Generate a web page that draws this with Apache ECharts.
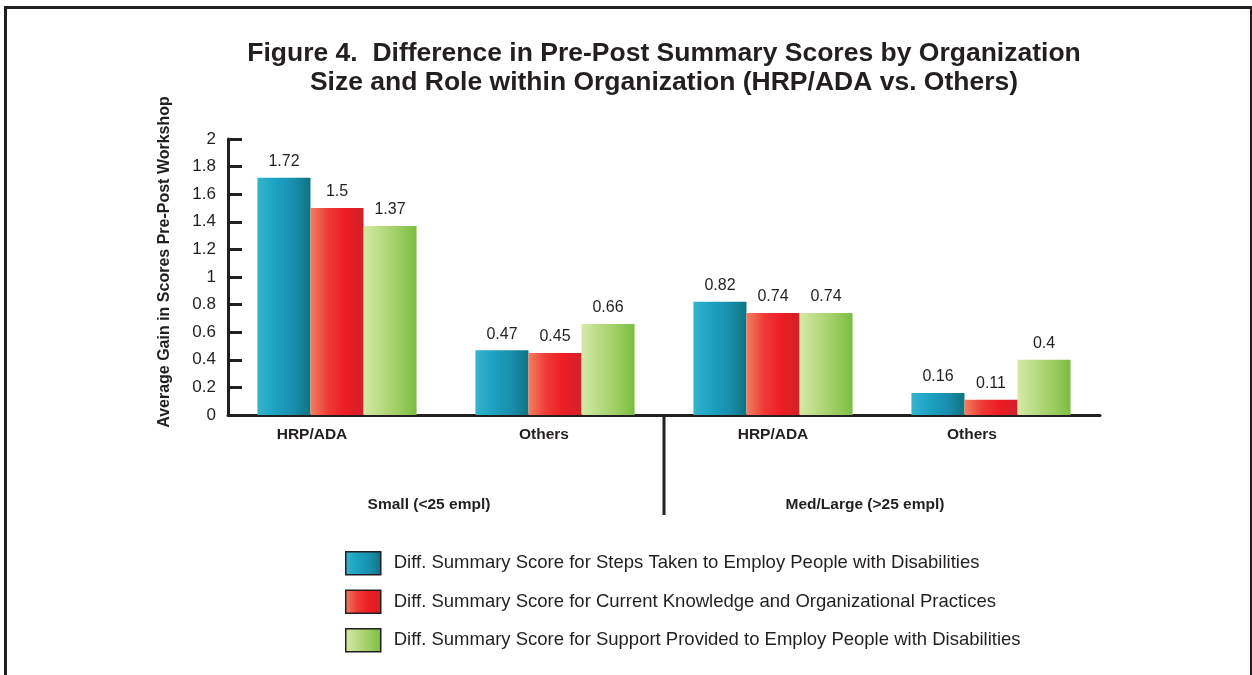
<!DOCTYPE html>
<html>
<head>
<meta charset="utf-8">
<script src="https://cdn.jsdelivr.net/npm/echarts@6/dist/echarts.min.js"></script>
<style>
  html, body { margin: 0; padding: 0; background: #fff; overflow: hidden; }
  #chart { width: 1252px; height: 675px; position: absolute; left: 0; top: 0; }
  #frame { position: absolute; left: 4px; top: 6px; width: 1243px; height: 720px;
           border: 3px solid #231f20; pointer-events: none; }
</style>
</head>
<body>
<div id="chart"></div>
<div id="frame"></div>
<script>
  // categories
  var roles = ['HRP/ADA', 'Others', 'HRP/ADA', 'Others'];
  var sizes = ['Small (<25 empl)', 'Med/Large (>25 empl)'];
  var yTicks = [0, 0.2, 0.4, 0.6, 0.8, 1, 1.2, 1.4, 1.6, 1.8, 2];
  // series values
  var stepsTaken = [1.72, 0.47, 0.82, 0.16];
  var knowledge = [1.5, 0.45, 0.74, 0.11];
  var support = [1.37, 0.66, 0.74, 0.4];
  var seriesNames = [
    'Diff. Summary Score for Steps Taken to Employ People with Disabilities',
    'Diff. Summary Score for Current Knowledge and Organizational Practices',
    'Diff. Summary Score for Support Provided to Employ People with Disabilities'
  ];

  var FONT = 'Liberation Sans';

  // 渐变色
  function grad(stops) {
    return new echarts.graphic.LinearGradient(0, 0, 1, 0, stops.map(function (c, i) {
      return { offset: i / (stops.length - 1), color: c };
    }));
  }
  var colors = [
    grad(['#35b4cc', '#1ca2c2', '#1a8fae', '#0e7480']),
    grad(['#f37f5e', '#ee3a36', '#ec1c24', '#d22128']),
    grad(['#d6e9a6', '#b9db84', '#9dcd62', '#7bbd42'])
  ];
  var dataList = [stepsTaken, knowledge, support];

  // 类目标签在原图中略微偏左
  var catStyle = { fontSize: 15.5, fontWeight: 'bold', color: '#231f20', fontFamily: FONT };
  var richCat = {
    c0: Object.assign({ padding: [0, 50, 0, 0] }, catStyle),
    c1: Object.assign({ padding: [0, 22, 0, 0] }, catStyle),
    c2: Object.assign({ padding: [0, 0, 0, 0] }, catStyle),
    c3: Object.assign({ padding: [0, 38, 0, 0] }, catStyle)
  };

  var chart = echarts.init(document.getElementById('chart'));
  var series = dataList.map(function (d, i) {
    return {
      name: seriesNames[i],
      type: 'bar',
      data: d,
      barGap: '0%',
      barCategoryGap: '27%',
      itemStyle: { color: colors[i] },
      label: {
        show: true,
        position: 'top',
        distance: 8,
        color: '#231f20',
        fontSize: 16,
        fontFamily: FONT
      }
    };
  });

  chart.setOption({
    animation: false,
    textStyle: { fontFamily: FONT },
    title: {
      text: 'Figure 4.  Difference in Pre-Post Summary Scores by Organization\nSize and Role within Organization (HRP/ADA vs. Others)',
      left: 659,
      top: 34,
      textAlign: 'center',
      textStyle: {
        fontSize: 26.5,
        fontWeight: 'bold',
        color: '#231f20',
        lineHeight: 29,
        fontFamily: FONT
      }
    },
    legend: {
      orient: 'vertical',
      left: 340,
      top: 546,
      itemWidth: 35,
      itemHeight: 23,
      itemGap: 14,
      icon: 'rect',
      itemStyle: { borderColor: '#231f20', borderWidth: 1.5 },
      textStyle: { fontSize: 18.5, color: '#231f20', fontFamily: FONT, padding: [0, 0, 0, 8] },
      data: seriesNames
    },
    grid: { left: 228, right: 152, top: 139, bottom: 260 },
    xAxis: [{
      type: 'category',
      data: roles,
      axisLine: { lineStyle: { color: '#231f20', width: 3 } },
      axisTick: { show: false },
      axisLabel: {
        margin: 12,
        formatter: function (v, i) { return '{c' + i + '|' + v + '}'; },
        rich: richCat
      }
    }, {
      type: 'category',
      position: 'bottom',
      offset: 70,
      data: sizes,
      axisLine: { show: false },
      axisTick: { show: false },
      axisLabel: { fontSize: 15.5, fontWeight: 'bold', color: '#231f20', fontFamily: FONT, margin: 12, padding: [0, 34, 0, 0] }
    }],
    yAxis: {
      type: 'value',
      min: yTicks[0],
      max: yTicks[yTicks.length - 1],
      interval: 0.2,
      name: 'Average Gain in Scores Pre-Post Workshop',
      nameLocation: 'middle',
      nameGap: 55,
      nameTextStyle: { fontSize: 16, fontWeight: 'bold', color: '#231f20', fontFamily: FONT, padding: [0, 0, 0, 30] },
      axisLine: { show: true, lineStyle: { color: '#231f20', width: 3 } },
      axisTick: { show: true, inside: true, length: 14, lineStyle: { color: '#231f20', width: 3 } },
      axisLabel: { fontSize: 17, color: '#231f20', fontFamily: FONT, margin: 12 },
      splitLine: { show: false }
    },
    series: series
  });

  // 分组分隔线（在 Others 和 HRP/ADA 之间）
  var p1 = chart.convertToPixel({ xAxisIndex: 0 }, 1);
  var p2 = chart.convertToPixel({ xAxisIndex: 0 }, 2);
  var y0 = chart.convertToPixel({ yAxisIndex: 0 }, 0);
  var xm = (p1 + p2) / 2;
  chart.setOption({
    graphic: [{
      type: 'line',
      shape: { x1: xm, y1: y0, x2: xm, y2: y0 + 100 },
      style: { stroke: '#231f20', lineWidth: 3 }
    }]
  });
</script>
</body>
</html>
